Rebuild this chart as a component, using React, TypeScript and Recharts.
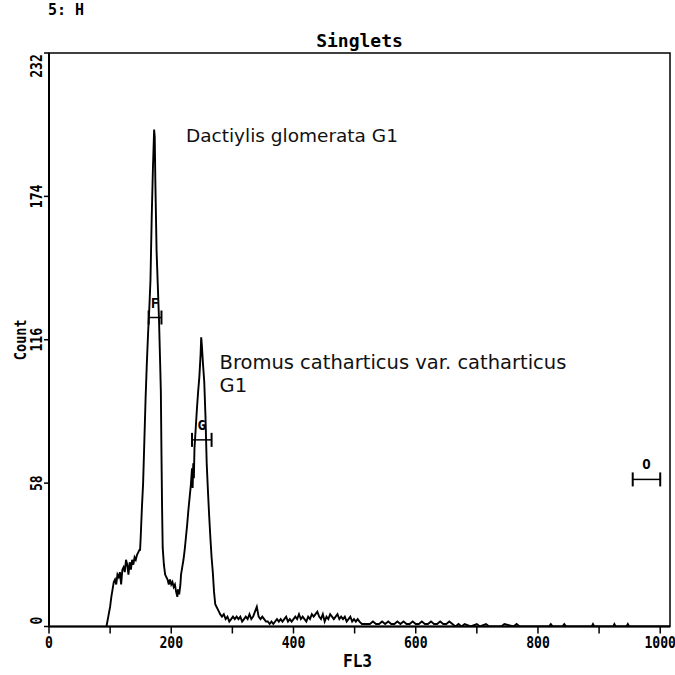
import React from 'react';
import {
  LineChart, Line, XAxis, YAxis, ReferenceArea, ReferenceDot, LabelList, Label,
} from 'recharts';

// ---- data ----
const fl3: number[] = [
  94, 97, 100, 102, 104, 106, 108, 110, 112, 114, 116, 118, 120, 122, 124, 126, 128, 130, 132, 134,
  136, 138, 140, 142, 144, 146, 148, 149, 150, 152, 154, 156, 158, 160, 162, 164, 166, 168, 170, 172,
  173, 174, 176, 178, 180, 182, 183, 184, 185, 186, 188, 190, 192, 194, 196, 198, 200, 202, 204, 206,
  208, 210, 211, 213, 215, 216, 218, 220, 222, 224, 226, 228, 230, 232, 234, 235, 236, 237, 238, 240,
  242, 244, 246, 248, 249, 250, 252, 254, 256, 258, 260, 262, 264, 266, 268, 270, 272, 274, 276, 278,
  280, 283, 286, 289, 292, 295, 298, 301, 304, 307, 310, 313, 316, 319, 322, 325, 328, 331, 334, 337,
  340, 343, 346, 349, 352, 355, 358, 361, 364, 367, 370, 373, 376, 379, 382, 385, 388, 391, 394, 397,
  400, 403, 406, 409, 412, 415, 418, 421, 424, 427, 430, 433, 436, 439, 442, 445, 448, 451, 454, 457,
  460, 463, 466, 469, 472, 475, 478, 481, 484, 487, 490, 493, 496, 499, 502, 505, 508, 512, 516, 520,
  525, 530, 535, 540, 545, 550, 555, 560, 565, 570, 575, 580, 585, 590, 595, 600, 605, 610, 615, 620,
  625, 630, 635, 640, 645, 650, 655, 660, 665, 670, 675, 680, 690, 700, 705, 715, 720, 740, 745, 760,
  765, 770, 775, 818, 821, 824, 840, 843, 846, 888, 890, 892, 923, 925, 927, 945, 947, 949, 1016,
];
const counts: number[] = [
  0, 4, 8, 12, 15, 18, 19, 17, 21, 20, 22, 17, 23, 24, 22, 27, 25, 21, 26, 23,
  27, 25, 28, 27, 29, 30, 31, 31, 36, 48, 58, 75, 92, 106, 118, 128, 140, 165, 185, 201,
  198, 180, 152, 138, 124, 105, 95, 70, 48, 32, 25, 21, 20, 19, 17, 19, 17, 18, 16, 17,
  14, 12, 15, 13, 17, 21, 24, 27, 31, 36, 41, 47, 52, 57, 64, 56, 66, 60, 72, 80,
  88, 95, 101, 110, 117, 114, 106, 99, 85, 66, 55, 45, 36, 28, 22, 14, 9, 8, 7, 6,
  5, 4, 5, 3, 4, 2, 3, 4, 3, 4, 3, 4, 2, 3, 4, 3, 5, 3, 4, 6,
  8, 4, 3, 4, 3, 2, 2, 1, 2, 1, 2, 3, 2, 3, 2, 3, 4, 2, 3, 2,
  3, 4, 3, 5, 3, 4, 3, 2, 4, 3, 5, 4, 5, 6, 4, 3, 5, 2, 4, 3,
  5, 4, 3, 4, 5, 3, 4, 3, 4, 2, 3, 4, 2, 3, 2, 3, 2, 1, 1, 1,
  1, 2, 1, 1, 2, 1, 2, 1, 1, 2, 1, 2, 1, 1, 2, 1, 1, 2, 1, 1,
  2, 1, 1, 2, 1, 1, 2, 1, 0, 1, 0, 1, 0, 1, 0, 1, 0, 0, 1, 0,
  1, 0, 0, 0, 1, 0, 0, 1, 0, 0, 1, 0, 0, 1, 0, 0, 1, 0, 0,
];

const xTicks: number[] = [0, 100, 200, 300, 400, 500, 600, 700, 800, 900, 1000];
const yTicks: number[] = [0, 58, 116, 174, 232];

const markerNames: string[] = ['F', 'G', 'O'];
const markerStart: number[] = [163, 234, 955];
const markerEnd: number[] = [184, 266, 1000];
const markerLevel: number[] = [125, 75.5, 59.5];

const annotTexts: string[] = ['Dactiylis glomerata G1', 'Bromus catharticus var. catharticus', 'G1'];
const annotX: number[] = [224, 279, 279];
const annotY: number[] = [196, 104.2, 95];
const annotSize: number[] = [18.5, 19.5, 19.5];

const histData = fl3.map((x, i) => ({ x, count: counts[i] }));

const MONO = "'DejaVu Sans Mono', monospace";
const SANS = "'DejaVu Sans', Verdana, sans-serif";

const XTick = (props: any) => {
  const { x, y, payload } = props;
  if (payload.value % 200 !== 0) return <g />;
  return (
    <g transform={`translate(${x},${y + 12})`}>
      <text transform="scale(0.82,1)" textAnchor="middle" fontFamily={MONO} fontWeight="bold" fontSize={16} fill="#000">
        {payload.value}
      </text>
    </g>
  );
};

const YTick = (props: any) => {
  const { y, payload } = props;
  const v = payload.value;
  let dy = 0;
  if (v === 232) dy = 13;
  if (v === 0) dy = -6;
  return (
    <g transform={`translate(36,${y + dy}) rotate(-90)`}>
      <text transform="scale(0.82,1)" textAnchor="middle" dominantBaseline="central" fontFamily={MONO} fontWeight="bold" fontSize={16} fill="#000">
        {v}
      </text>
    </g>
  );
};

const renderTitle = (props: any) => {
  const vb = props.viewBox || { x: 49, y: 53, width: 621, height: 573.5 };
  return (
    <text x={vb.x + vb.width / 2} y={vb.y - 6} textAnchor="middle" fontFamily={MONO} fontWeight="bold" fontSize={18} fill="#000">
      Singlets
    </text>
  );
};

const renderXLabel = (props: any) => {
  const vb = props.viewBox || { x: 49, y: 626.5, width: 621, height: 40 };
  return (
    <g transform={`translate(${vb.x + vb.width / 2 - 2},${vb.y + 40})`}>
      <text transform="scale(0.9,1)" textAnchor="middle" fontFamily={MONO} fontWeight="bold" fontSize={18} fill="#000">
        FL3
      </text>
    </g>
  );
};

const renderYLabel = (props: any) => {
  const vb = props.viewBox || { x: 0, y: 53, width: 49, height: 573.5 };
  return (
    <g transform={`translate(20,${vb.y + vb.height / 2}) rotate(-90)`}>
      <text transform="scale(0.85,1)" textAnchor="middle" dominantBaseline="central" fontFamily={MONO} fontWeight="bold" fontSize={16} fill="#000">
        Count
      </text>
    </g>
  );
};

const makeAnnot = (text: string, size: number) => (props: any) => {
  const vb = props.viewBox || { x: 0, y: 0 };
  return (
    <text x={vb.x} y={vb.y} fontFamily={SANS} fontSize={size} fill="#111">
      {text}
    </text>
  );
};

const CapDot = (props: any) => {
  const { cx, cy, index } = props;
  if (index === 1 || cx == null || cy == null) return <g key={`c${index}`} />;
  return <line key={`c${index}`} x1={cx} x2={cx} y1={cy - 7} y2={cy + 7} stroke="#000" strokeWidth={2} />;
};

const makeMarkerLabel = (name: string) => (props: any) => {
  const { x, y, index } = props;
  if (index !== 1) return null;
  return (
    <text x={x} y={y - 10} textAnchor="middle" fontFamily={MONO} fontWeight="bold" fontSize={14} fill="#000">
      {name}
    </text>
  );
};

export default function App() {
  return (
    <div style={{ position: 'absolute', left: 0, top: 0, width: 675, height: 675, background: '#fff' }}>
      <div style={{ position: 'absolute', left: 48, top: 3, fontFamily: MONO, fontWeight: 'bold', fontSize: 15, lineHeight: '15px', whiteSpace: 'pre' }}>
        5: H
      </div>
      <LineChart width={675} height={675} data={histData} margin={{ top: 53, right: 5, bottom: 8, left: 0 }}>
        <XAxis
          dataKey="x"
          type="number"
          domain={[0, 1016]}
          ticks={xTicks}
          interval={0}
          allowDataOverflow
          tick={<XTick />}
          tickSize={7}
          tickMargin={2}
          height={40.5}
          axisLine={{ stroke: '#000', strokeWidth: 2 }}
          tickLine={{ stroke: '#000', strokeWidth: 1.5 }}
        >
          <Label content={renderXLabel} />
        </XAxis>
        <YAxis
          type="number"
          domain={[0, 232]}
          ticks={yTicks}
          interval={0}
          allowDataOverflow
          width={49}
          tick={<YTick />}
          tickSize={5}
          axisLine={{ stroke: '#000', strokeWidth: 2 }}
          tickLine={{ stroke: '#000', strokeWidth: 1.5 }}
        >
          <Label content={renderYLabel} />
        </YAxis>
        <ReferenceArea x1={0} x2={1016} y1={0} y2={232} fill="none" stroke="#000" strokeWidth={1.5} label={renderTitle} />
        <Line
          type="linear"
          dataKey="count"
          stroke="#000"
          strokeWidth={1.9}
          dot={false}
          isAnimationActive={false}
        />
        {markerNames.map((name, i) => (
          <Line
            key={name}
            data={[
              { x: markerStart[i], y: markerLevel[i] },
              { x: (markerStart[i] + markerEnd[i]) / 2, y: markerLevel[i] },
              { x: markerEnd[i], y: markerLevel[i] },
            ]}
            dataKey="y"
            stroke="#000"
            strokeWidth={1.5}
            dot={<CapDot />}
            activeDot={false}
            isAnimationActive={false}
          >
            <LabelList dataKey="y" content={makeMarkerLabel(name)} />
          </Line>
        ))}
        {annotTexts.map((t, i) => (
          <ReferenceDot key={t + i} x={annotX[i]} y={annotY[i]} r={0} fill="none" stroke="none" label={makeAnnot(t, annotSize[i])} />
        ))}
      </LineChart>
    </div>
  );
}
